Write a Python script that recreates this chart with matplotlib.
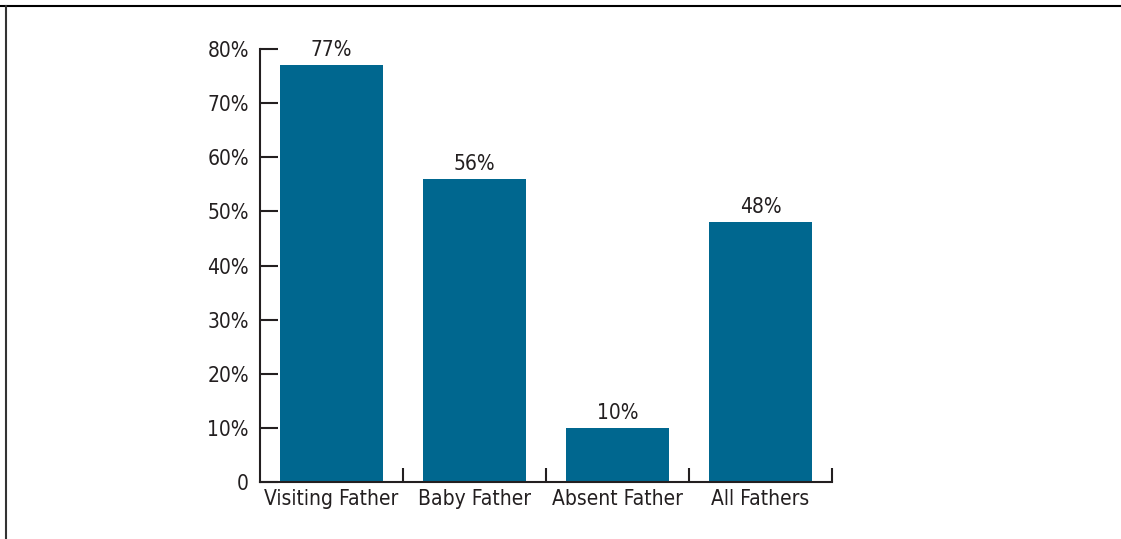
import matplotlib.pyplot as plt
from matplotlib.lines import Line2D
from matplotlib import font_manager

categories = ["Visiting Father", "Baby Father", "Absent Father", "All Fathers"]
values = [77, 56, 10, 48]
yticks = [0, 10, 20, 30, 40, 50, 60, 70, 80]
ytick_labels = ["0", "10%", "20%", "30%", "40%", "50%", "60%", "70%", "80%"]

# pick a condensed face if one is around
fonts = font_manager.fontManager.ttflist
cond = [f for f in fonts if f.stretch in ("condensed", "semi-condensed") or "Narrow" in f.name or "Condensed" in f.name]
cond = [f for f in cond if f.weight in (400, "normal", "regular") and f.style == "normal"]
if cond:
    prop = font_manager.FontProperties(fname=cond[0].fname)
    family = prop.get_name()
    stretch = cond[0].stretch
else:
    family, stretch = "DejaVu Sans", "normal"
plt.rcParams["font.family"] = [family, "DejaVu Sans"]
plt.rcParams["font.stretch"] = stretch

text_color = "#231f20"
bar_color = "#00678f"
fs = 15

fig = plt.figure(figsize=(11.21, 5.39), dpi=100)
ax = fig.add_axes([260 / 1121, 57 / 539, 572 / 1121, 433 / 539])

x = range(len(categories))
ax.bar(x, values, width=0.72, color=bar_color, zorder=2)
for i, v in zip(x, values):
    ax.text(i, v + 0.9, f"{v}%", ha="center", va="bottom", fontsize=fs, color=text_color)

ax.set_xlim(-0.5, len(categories) - 0.5)
ax.set_ylim(0, 80)
ax.set_yticks(yticks)
ax.set_yticklabels(ytick_labels, fontsize=fs, color=text_color)
ax.tick_params(axis="y", direction="in", length=13, width=1.5, color=text_color, pad=8)

# category labels at centres, tick marks at boundaries
ax.set_xticks([i + 0.5 for i in x])
ax.tick_params(axis="x", direction="in", length=10, width=1.5, color=text_color, labelbottom=False)
for i, c in zip(x, categories):
    ax.text(i, -1.3, c, ha="center", va="top", fontsize=fs, color=text_color)

for s in ["top", "right"]:
    ax.spines[s].set_visible(False)
for s in ["left", "bottom"]:
    ax.spines[s].set_linewidth(1.5)
    ax.spines[s].set_color(text_color)

# frame lines around the figure
fig.add_artist(Line2D([0, 1], [1 - 6 / 539, 1 - 6 / 539], color="black", lw=1.5, transform=fig.transFigure))
fig.add_artist(Line2D([6 / 1121, 6 / 1121], [0, 1 - 6 / 539], color="#333333", lw=1.5, transform=fig.transFigure))

fig.savefig("out.png", dpi=100)
